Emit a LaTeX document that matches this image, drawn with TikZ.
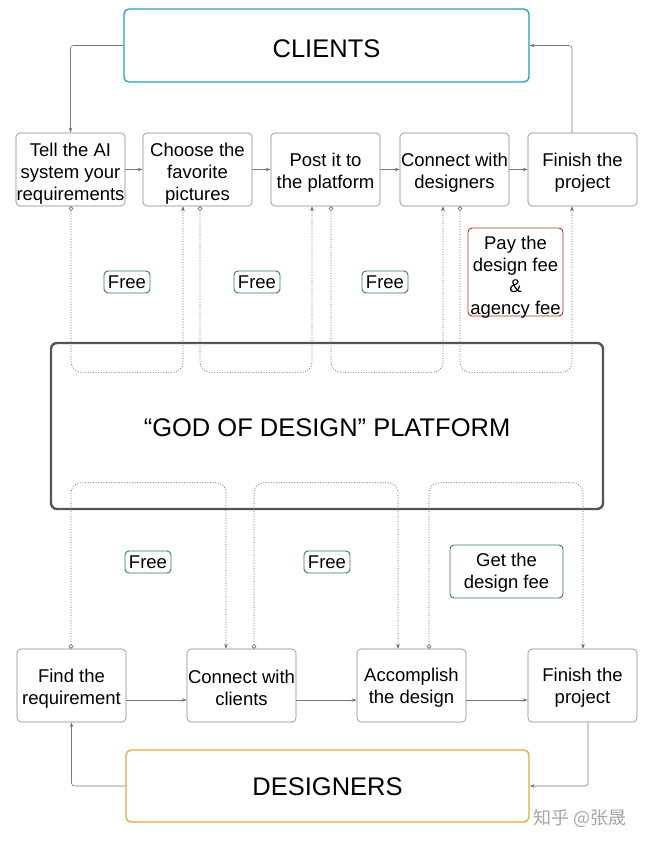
\documentclass[tikz,border=0pt]{standalone}
\usepackage{fontspec}
\setmainfont{Liberation Sans}
\newfontfamily\cjk{Noto Sans CJK SC}
\usetikzlibrary{arrows.meta}
\definecolor{cyanc}{RGB}{27,161,199}
\definecolor{orangec}{RGB}{232,168,56}
\definecolor{greenc}{RGB}{50,128,72}
\definecolor{redc}{RGB}{190,45,45}
\definecolor{platc}{RGB}{85,85,85}
\definecolor{boxc}{RGB}{135,135,135}
\definecolor{linec}{RGB}{120,120,120}
\definecolor{dotc}{RGB}{105,105,105}
\begin{document}
\begin{tikzpicture}[x=1pt,y=-1pt,
  every node/.style={font=\fontsize{18.5}{22}\selectfont, align=center, inner sep=0pt},
  stepbox/.style={draw=boxc, line width=0.6pt, rounded corners=4pt, minimum width=109pt, minimum height=73pt},
  bigbox/.style={draw=#1, line width=1.3pt, rounded corners=5pt},
  bigtext/.style={font=\fontsize{25.5}{30}\selectfont},
  tag/.style={draw=#1, line width=0.9pt, rounded corners=4pt},
  conn/.style={draw=linec, line width=0.6pt, rounded corners=3pt, -{Stealth[length=5pt,width=3.5pt]}},
  dloop/.style={draw=dotc, line width=0.6pt, dash pattern=on 1pt off 1.6pt, rounded corners=10pt,
     {Circle[open,length=4.5pt,width=4.5pt,line width=0.6pt]}-{Stealth[length=5pt,width=3.5pt]}}
]
\useasboundingbox (0,0) rectangle (647,845);
\fill[white] (0,0) rectangle (647,845);

% big boxes
\node[bigbox=cyanc, minimum width=405pt, minimum height=73pt] (clients) at (326.5,45.5) {};
\node[bigtext] (clientstxt) at ([yshift=-3pt]clients.center) {CLIENTS};
\node[bigbox=orangec, minimum width=403pt, minimum height=72pt] (designers) at (327.5,786) {};
\node[bigtext] (designerstxt) at ([yshift=-1pt]designers.center) {DESIGNERS};
\node[draw=platc, line width=2.4pt, rounded corners=6pt, minimum width=552pt, minimum height=166pt] (plat) at (327,426) {};
\node[bigtext] (plattxt) at ([yshift=-2pt]plat.center) {“GOD OF DESIGN” PLATFORM};

% top row
\node[stepbox] (t1) at (70.5,169.5) {};
\node (t1txt) at ([yshift=-4pt]t1.center) {Tell the AI\\system your\\requirements};
\node[stepbox] (t2) at (197.5,169.5) {};
\node (t2txt) at ([yshift=-4pt]t2.center) {Choose the\\favorite\\pictures};
\node[stepbox] (t3) at (325.5,169.5) {};
\node (t3txt) at ([yshift=-3pt]t3.center) {Post it to\\the platform};
\node[stepbox] (t4) at (454.5,169.5) {};
\node (t4txt) at ([yshift=-3pt]t4.center) {Connect with\\designers};
\node[stepbox] (t5) at (582.5,169.5) {};
\node (t5txt) at ([yshift=-3pt]t5.center) {Finish the\\project};

% bottom row
\node[stepbox] (b1) at (71.5,685.5) {};
\node (b1txt) at ([yshift=-3pt]b1.center) {Find the\\requirement};
\node[stepbox] (b2) at (241.5,685.5) {};
\node (b2txt) at ([yshift=-2pt]b2.center) {Connect with\\clients};
\node[stepbox] (b3) at (411.5,685.5) {};
\node (b3txt) at ([yshift=-2pt]b3.center) {Accomplish\\the design};
\node[stepbox] (b4) at (582.5,685.5) {};
\node (b4txt) at ([yshift=-2pt]b4.center) {Finish the\\project};

% tags
\node[tag=greenc, minimum width=46pt, minimum height=22pt] (f1) at (127,282) {Free};
\node[tag=greenc, minimum width=46pt, minimum height=22pt] (f2) at (257,282) {Free};
\node[tag=greenc, minimum width=46pt, minimum height=22pt] (f3) at (385,282) {Free};
\node[tag=redc, minimum width=95pt, minimum height=88pt] (pay) at (515.5,272) {};
\node[font=\fontsize{18.5}{21.5}\selectfont] (paytxt) at ([yshift=-5pt]pay.center) {Pay the\\design fee\\\&\\agency fee};
\node[tag=greenc, minimum width=46pt, minimum height=22pt] (f4) at (148,562) {Free};
\node[tag=greenc, minimum width=46pt, minimum height=22pt] (f5) at (327,562) {Free};
\node[tag=greenc, minimum width=113pt, minimum height=53pt] (get) at (506.5,571.5) {};
\node (gettxt) at ([yshift=-1.5pt]get.center) {Get the\\design fee};

% solid flow arrows
\draw[conn] (t1.east) -- (t2.west);
\draw[conn] (t2.east) -- (t3.west);
\draw[conn] (t3.east) -- (t4.west);
\draw[conn] (t4.east) -- (t5.west);
\draw[conn] ([yshift=-14.5pt]b1.east) -- ([yshift=-14.5pt]b2.west);
\draw[conn] ([yshift=-14.5pt]b2.east) -- ([yshift=-14.5pt]b3.west);
\draw[conn] ([yshift=-14.5pt]b3.east) -- ([yshift=-14.5pt]b4.west);

\draw[conn] (clients.west) -| (t1.north);
\draw[conn] ([xshift=-10.5pt]t5.north) |- (clients.east);
\draw[conn] (designers.west) -| (b1.south);
\draw[conn] ([xshift=5.5pt]b4.south) |- (designers.east);

% dotted loops through the platform (top)
\draw[dloop] ([xshift=0.5pt]t1.south) -- ++(0,166) -| ([xshift=-14.5pt]t2.south);
\draw[dloop] ([xshift=2.5pt]t2.south) -- ++(0,166) -| ([xshift=-13.5pt]t3.south);
\draw[dloop] ([xshift=5.5pt]t3.south) -- ++(0,166) -| ([xshift=-11.5pt]t4.south);
\draw[dloop] ([xshift=5.5pt]t4.south) -- ++(0,166) -| ([xshift=-10.5pt]t5.south);

% dotted loops (bottom)
\draw[dloop] ([xshift=-0.5pt]b1.north) -- ++(0,-166) -| ([xshift=-15.5pt]b2.north);
\draw[dloop] ([xshift=12.5pt]b2.north) -- ++(0,-166) -| ([xshift=-13.5pt]b3.north);
\draw[dloop] ([xshift=17.5pt]b3.north) -- ++(0,-166) -| ([xshift=0.5pt]b4.north);

% watermark
\node[text=black!35, font=\cjk\fontsize{18}{20}\selectfont] (wm) at (580,818) {知乎 @张晟};
\end{tikzpicture}
\end{document}
